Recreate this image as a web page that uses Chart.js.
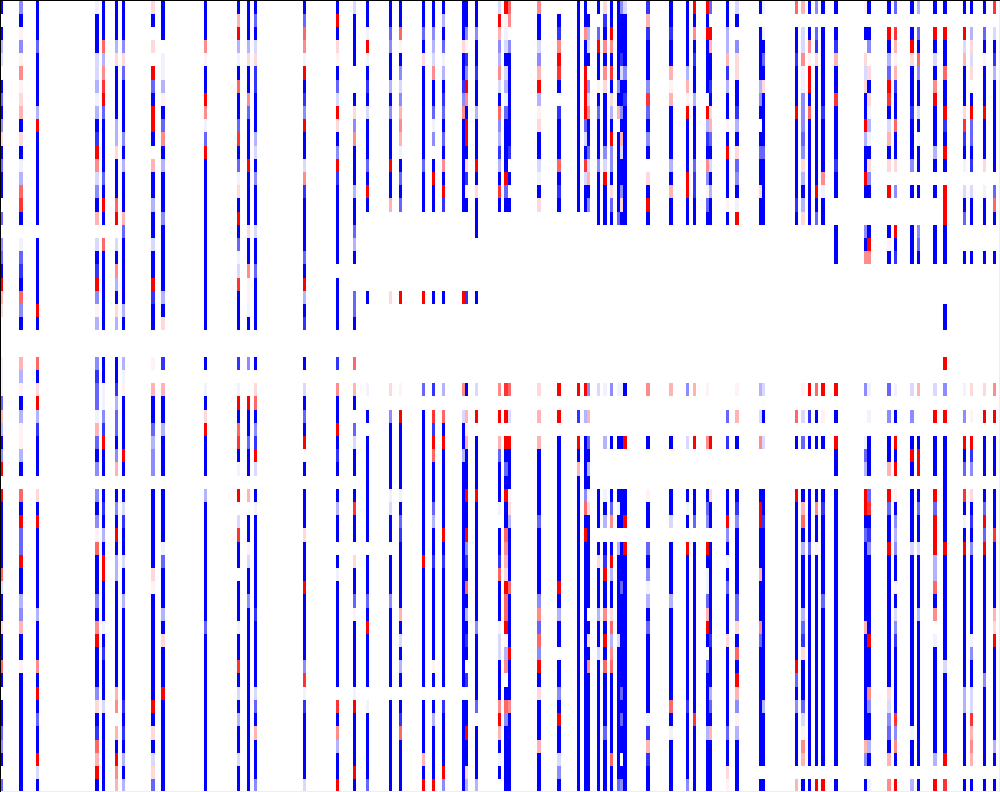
<!DOCTYPE html>
<html>
<head>
<meta charset="utf-8">
<title>Heatmap</title>
<style>
  html, body { margin: 0; padding: 0; background: #fff; }
  canvas { display: block; }
</style>
<script src="https://cdn.jsdelivr.net/npm/chart.js@4/dist/chart.umd.js"></script>
</head>
<body>
<canvas id="chart" width="1000" height="792"></canvas>
<script>
const COLUMN_COUNT = 303;
const ROW_COUNT = 60;

// one letter per cell, blue (negative) to red (positive)
const levelCodes = ['B', 'c', 'b', 'm', 'l', 'k', 'e', '.', 'p', 'q', 'r', 't', 's', 'd', 'R'];
const levelValues = [-1, -0.8, -0.6, -0.45, -0.3, -0.15, -0.05, 0, 0.05, 0.15, 0.3, 0.45, 0.6, 0.8, 1];

// only these columns hold anything, the others stay empty
const columnIds = [
  0, 6, 11, 29, 31, 35, 37, 46, 49, 62, 72, 75, 77, 92, 102, 107, 111, 118, 121, 128, 131, 134,
  140, 141, 144, 151, 153, 154, 163, 169, 175, 177, 178, 181, 183, 185, 187, 188, 189, 196, 203,
  208, 210, 214, 215, 220, 223, 230, 231, 241, 243, 245, 247, 249, 253, 262, 263, 269, 271, 276,
  278, 283, 286, 292, 294, 298, 301,
];

// rows top to bottom, in groups of 15
const columnCells = [
  'B.Blk.BbBmqBbBB .b.mbBRrq...eee brlBmR.RBBBBBsk BBqBBsB.BBbmB.b',
  'mBpmptpqrBqBels dB.ebcBsmB..rlp BlpplB.sBRbbRBB lmrBBpBBBBBBBBB',
  'BBBbBBBBlRBBBBB BB.BBBBBRB..sBq RlcBBB.qBRBBBBB BlBBBtBRBbBBRkB',
  'eBBBkklelBcRtkm Br.kBcRmpl..mcb berbBm.mBmpsBBB mBtRBBBmqBcsrRB',
  'BBBsltdRbBBBBbB RB.sBBBBBB..BBe emcRBB.BcBlBRRB BBeBcBBBkBBBBBB',
  'BBBlqBBBBllqBBB sR.kBtlBql..BBc lbbBmr.BmBRBllB BBBBBBBrt.rBRtr',
  'BBBmqbBBBBmBlBB BrbBBBBBlB..lep BBBBRB.BkcBBkBB lBBBBBBBcBcBlBl',
  'qB.q.RbBRRB.rBB lBBkBBRcBB..p.r BBblmm.BBBBBBqp BBBBBBBBRBqBkqb',
  'BBB.eelpBbtBlBB BmBBBBBlBq..c.r BBlBBB.BBBBebBB BlBqBBBRBBBBBBB',
  'BBBtpBBRtebRBBB BBBBBBBBBB..B.e BqRBBB.lBBBBBBB BBbBBBBBBBBBBBB',
  'BrRleBsBBbdBbeq BRBbekdBBB..c.e RBsdBe.R.kdBB.B BBeBBdBkBlBBkBB',
  'BBBlqBBtbBBBRBB BBqBBtppeB..m.. RBBbBB.r.BBpkBB mBBBBBBBBBBBBBB',
  'BbBkqccBBBlkBmB BBkBBbBBBB..B.q sBmcRk.BeBBBBBB BcBBBBBkbBrBBBm',
  'BbsteRBcmRBBktc BBBBbBRlBc..B.k BbBR.B.BBBqBBBR BBBBBmdecBBBBBk',
  'BRBqpBbkRqBmRcB BBBBB.BBBB..c.t BBRBcB.BlBB.BeB BBBBBBB.dBtlBBR',
  'kBBBB..BqmtBBBl BBblB..bbB..s.r B.bkBB.BdBB.qBB bpBBBBBeRBBBBRB',
  'BBeReBcBkBBBbBR B......B......e .B.BBBBBBBB.BBB bBRBBBB.eBBBBBb',
  'BBbmBBlBmBBBRBB r......q......q .mBBBBBekBB.BBB mBBBBBB.BBBBBBB',
  'BBspBmkmrtreBbB b......R......p .RBBBBBeBbcBBBB BrBkBlB.BcsBBBB',
  'BBbBqBBBBBBBbBB B......R......b .BBBBBBBBBBBRBB BBBBBBB.BBBBrBR',
  'BBmlktBBbem.BRB B......B......c .dcRsBBBblBBcBB BBBBBpB.BlBBBBR',
  'BlBbelBcbBbBtBR c......B......l .sBRBBBBBBRBcBB BBBBBBB.cBBBBRm',
  'BBBqBBcmtBBBBBB B......R......t .kBBlBBBBBBBBBB BBBBBBB.BBBBBBB',
  'BBmpcmRtBRRBqcp B......c......B .rprBBBRBBRmcBs BlBcB.c.BBRBBql',
  'BBmBBcBBlBBBRBq BBB....B......k .R.BBBBRBBBBBBB BBmBBBBBb.BBBBl',
  'kRrmltkBsmlclBd B.............t .R.rbBBBe.BBcsB BBekkBBBtRrBeB.',
  'RpekBklebBBBBRb B.............d .R.RBbBRBBstrqR ssRplt.BsmBBBBB',
  'st.mBBBBBBBc.B. B.............s .k.RBBBpqlBBBBs BBBBRBBBtBBBBBB',
  'tBBkmrRlpqBBkeB q.............q .r.rBBBBBbBBBBB mtbsmRBqBBBrBBB',
  '.BctRdB.cBBBsBc B.............R .R.BBBBBBBBBBBR BlBB.BBmBRBBkmB',
  'BBBBBBBBBBBBBBB B.............R .c.RBrBBBBBBBBB BBBBBBBBBBBBBBB',
  'BBtBBRRRRbkBdkB B.............R .l.BBBBmsBRBBBB BBBBBBBBBBBBBBB',
  '.BlkB.mktBBbkrB m.............m .r.bBlBpqBBBBBB B.BqBtBBBBBBBBB',
  'B.bRBBpBbBBBmBB BB............k .......BBB.BqBB BlBBkBBBBBBBBBB',
  'qcBtBtqBBBBmkRB BB............e ...l...eBl.BcRB BtBRBsBBBBbBBBB',
  'BBRtBdBqlBRmmBq bB............m ...B...Bbt.BRlB BqsltsBBBBBBsBB',
  'BBBBBBmBr.BBBBB Bb............e ...B...BeB.lBBB BBBkBBBBBBBBBBb',
  'mBBBckBBmBrkBBm qB............e ...B...BBB.BBBb BBBBBBBbBbBB.Bm',
  'kBBBBmBcBBBBBBB BB............B ...R...BBR.RBBB BBBBBBBBBBBBBBB',
  'crcBBBmdbBmB.qB RB............t ...B...pBB.bBme lBbBBBBBBecrcBB',
  'BBcBBrprBBBBlBr BB............r ...B...BBk.BBBB lBBBBBBBsBeBBBB',
  'BBBBBlrpRBBBBRR BB............m ...k...BeB.RBBB BBBBBBBBcBBBBBm',
  'RBtBcBBlBBBBbcc BB............r ...R...BBb.BBBB BBBBBBBBBdBBBBB',
  'RBRBBBB.RlcBtmp bB............p ...t...Bbm.RBee brRB.bBBBBlBBBB',
  'b.RrBBcBqrbBkBl BB............. ...R...qBB.BBBB BBBcBBBlbBrBBBB',
  'BBllrclBBpBRBBB pB............. .b.c...BBRmBeBb BBBqBBBBBBbBBqp',
  'kB.mqqBBclBqbmB eR............p .r.B...BcmBBBBB bbqBsBRrmplBBBB',
  'B.BBBBlmB.BbBBq BB............l .k.t...BRRBBBrB BBtbBBBBBBBBB.B',
  'e.eBbBqBBBBbBBB BB............k .B.k...BBcBBBBB BBBBBBBBlBBBB.B',
  's.BBcBBBRBBBBBB cB............. .s.B...RBBBBBBB BBBBBRbBmBBBB.r',
  'r.kkteemmmbmqlB lq............p .k.b...BrsBlBBB BlbcqBBBbkptr.B',
  'B.BtpRRBsBBBBBB BB............R .c.B...BBBBbBBB BBBBBBBBBBBBB.B',
  'm.bcqBBBBBBBBBR Bb............s .B.B...BtBBpBBB BBBBBBBBBBBBB.R',
  'B.BBBBBBcBBBBte BB............R .p.B...BcBBBBBB bBBBBBBBBBBBB.R',
  'B.BcrBBdBBBBcBB ..BBB.........R .B.RBB.BBBBBBBB BBBBBBBBBBBBB.B',
  'p.B.qkqBBRlBBRB ..mBt.........m ...ebl.RRBbBBBB BBrBBBBBBBBrm.B',
  'B.Bm.qBqeleBqmB ..BRt.........e .e.BBB.bdBcmBBB BBBRBBBtmBBlB.e',
  'B.RBlbRdBkrBq.R ..BpB.........b .m.BBr.RbBBRBBB BBBBBBBqkmbBr.t',
  'b.drprcBBsBBq.m ..RBc.........e .B.RBR.pBmlmBBp BkmcBBBBBdmtB.R',
  'B.BRqBBBcBBBm.B ..BBB.........k .m.BRB.BBBBkBBB BBBBBBBBBBeBB.l',
  'l.bBsmBBkBeBB.B ..mbB.........r ...BRR.BbBBkBBB BlBBBBBBBBBBB.B',
  'B.RBkBtRBBBlB.B ..BBB.........k .R.BBB.RbRRRlls Bt.eBBBBBBBBl.R',
  'B.RBBsBBRcBRB.R RRBBB...BB..R.m .R.BBBBBBBBRBBB BBBBBkBBBBBBR.d',
  'B.RkrBBBqdcBe.k Bb..B.........e .m.RBb.dBeBRBBB BBBBBBBllBBBB.B',
  'B.lqkq.BRbbBc.k BB..B.........q .p.Rcm.qBcBmBBB BBBemBBkkdrtr.B',
  'B.bBpBBBRBBBq.e BB..B.........q .R.BBB.BbRbRBBB BBBBBBmBBBBBB.B',
  'd.kBclBBBBBBB.b sB..B.........t .R.BBB.BBBdBBBB BrqRBBBBBBBlB.B',
];

const valueOf = code => levelValues[levelCodes.indexOf(code)];

const cellColor = value => {
  if (value === null || value === 0) return '#ffffff';
  const fade = Math.round(255 * (1 - Math.abs(value)));
  return value < 0 ? `rgb(${fade},${fade},255)` : `rgb(255,${fade},${fade})`;
};

const labels = Array.from({ length: COLUMN_COUNT }, (_, i) => i);

const cellAt = (row, column) => {
  const index = columnIds.indexOf(column);
  if (index < 0) return null;
  return valueOf(columnCells[index].replace(/ /g, '')[row]);
};

const datasets = Array.from({ length: ROW_COUNT }, (_, row) => {
  const values = labels.map(column => cellAt(row, column));
  return {
    label: `row ${row}`,
    data: values.map(v => (v === null ? null : 1)),
    backgroundColor: values.map(cellColor),
    borderWidth: 0,
    inflateAmount: 0,
    categoryPercentage: 1,
    barPercentage: 1,
  };
});

// the picture is a raster, so cells have to land on whole pixels
const snapCells = {
  id: 'snapCells',
  afterDatasetsUpdate(chart) {
    chart.data.datasets.forEach((_, i) => {
      chart.getDatasetMeta(i).data.forEach(bar => {
        if (bar.skip || !Number.isFinite(bar.x)) return;
        const left = Math.round(bar.x - bar.width / 2 - 0.5);
        const right = Math.round(bar.x + bar.width / 2 - 0.5);
        bar.x = (left + right) / 2;
        bar.width = right - left;
        bar.y = Math.round(bar.y + 0.3);
        bar.base = Math.round(bar.base + 0.3);
      });
    });
  },
};

const frame = {
  id: 'frame',
  afterDraw(chart) {
    const { ctx, width, height } = chart;
    ctx.save();
    ctx.fillStyle = '#eeeeee';
    ctx.fillRect(width - 1, 0, 1, height);
    ctx.fillRect(0, height - 1, width, 1);
    ctx.fillStyle = '#000000';
    ctx.fillRect(0, 0, width, 1);
    ctx.fillRect(0, 0, 1, height);
    ctx.restore();
  },
};

new Chart(document.getElementById('chart'), {
  type: 'bar',
  data: { labels, datasets },
  plugins: [snapCells, frame],
  options: {
    responsive: false,
    animation: false,
    plugins: {
      legend: { display: false },
      tooltip: { enabled: false },
    },
    scales: {
      x: { display: false, stacked: true, grid: { display: false } },
      y: { display: false, stacked: true, reverse: true, min: 0, max: ROW_COUNT, grid: { display: false } },
    },
  },
});
</script>
</body>
</html>
